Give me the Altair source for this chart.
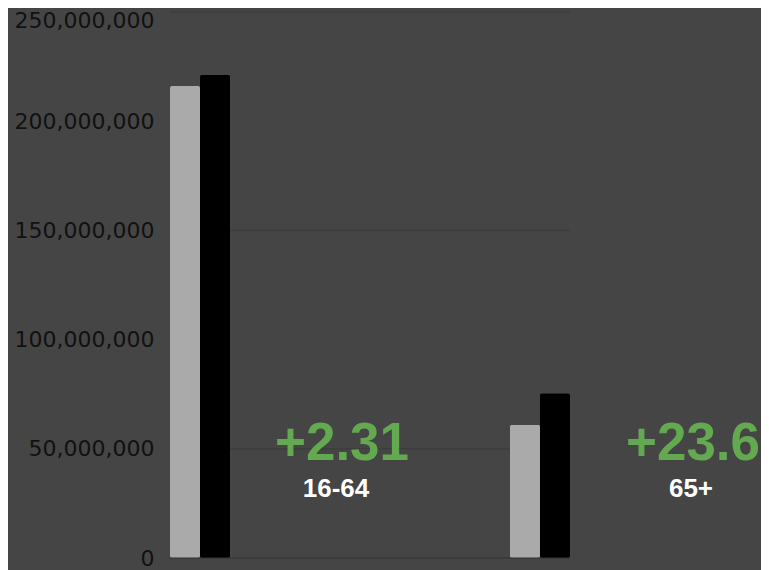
import altair as alt
import pandas as pd

groups = ["16-64", "65+"]
series = ["Before", "After"]
values_before = [216_100_000, 61_000_000]
values_after = [221_200_000, 75_400_000]
changes = ["+2.31", "+23.6"]
y_ticks = [0, 50_000_000, 100_000_000, 150_000_000, 200_000_000, 250_000_000]
grid_values = [50_000_000, 150_000_000, 250_000_000]

rows = []
for g, b, a in zip(groups, values_before, values_after):
    rows.append({"group": g, "series": "Before", "value": b})
    rows.append({"group": g, "series": "After", "value": a})
df = pd.DataFrame(rows)

ann = pd.DataFrame({"group": groups, "change": changes})

x_enc = alt.X("group:N", sort=groups, axis=None,
              scale=alt.Scale(paddingInner=0.8235, paddingOuter=0))
y_scale = alt.Scale(domain=[0, 250_000_000], nice=False)
y_axis = alt.Axis(values=y_ticks, format=",d", title=None,
                  labelFont="DejaVu Sans", labelFontSize=22,
                  labelColor="#111111", labelPadding=16, ticks=False,
                  labelOffset=alt.condition("datum.value == 250000000",
                                            alt.value(8), alt.value(0)),
                  domain=False, grid=False)

grid = alt.Chart(pd.DataFrame({"v": grid_values})).mark_rule(
    color="#3b3b3b", strokeWidth=1
).encode(y=alt.Y("v:Q", scale=y_scale, axis=y_axis))

bars = alt.Chart(df).mark_bar(cornerRadius=2).encode(
    x=x_enc,
    xOffset=alt.XOffset("series:N", sort=series),
    y=alt.Y("value:Q", scale=y_scale, axis=y_axis),
    color=alt.Color("series:N", sort=series,
                    scale=alt.Scale(domain=series, range=["#aaaaaa", "#000000"]),
                    legend=None),
)

baseline = alt.Chart(pd.DataFrame({"v": [0]})).mark_rule(color="#333333", strokeWidth=1).encode(
    y=alt.Y("v:Q", scale=y_scale, axis=y_axis)
)

def label_layer(g, dx_big, dx_small):
    sub = ann[ann.group == g]
    big = alt.Chart(sub).mark_text(
        font="Liberation Sans", fontWeight="bold", fontSize=53, color="#62a94f",
        align="center", baseline="alphabetic", dx=dx_big,
    ).encode(x=x_enc, y=alt.value(448), text="change:N")
    small = alt.Chart(sub).mark_text(
        font="Liberation Sans", fontWeight="bold", fontSize=26, color="#ffffff",
        align="center", baseline="alphabetic", dx=dx_small,
    ).encode(x=x_enc, y=alt.value(485), text="group:N")
    return big + small

chart = alt.layer(
    grid, bars, baseline,
    label_layer("16-64", 142, 136),
    label_layer("65+", 153, 151),
).properties(
    width=400, height=546,
    background="#454545",
    autosize=alt.AutoSizeParams(type="none"),
    padding={"left": 162, "top": 4, "right": 191, "bottom": 12},
).configure_view(stroke=None)

chart.save("out.html", embed_options={"renderer": "svg", "actions": False})
